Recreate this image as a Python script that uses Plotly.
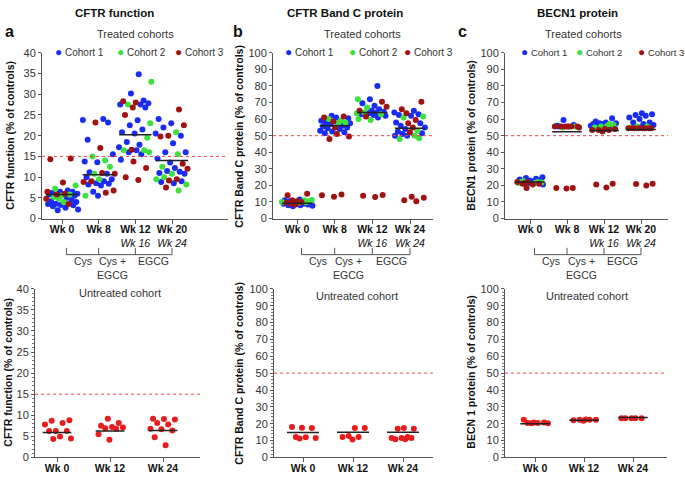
import plotly.graph_objects as go

# ---------------- data ----------------
top_a_labels = ["<b>Wk 0</b>", "<b>Wk 8</b>", "<b>Wk 12</b><br><i>Wk 16</i>", "<b>Wk 20</b><br><i>Wk 24</i>"]
top_b_labels = ["<b>Wk 0</b>", "<b>Wk 8</b>", "<b>Wk 12</b><br><i>Wk 16</i>", "<b>Wk 24</b><br><i>Wk 24</i>"]
top_c_labels = ["<b>Wk 0</b>", "<b>Wk 8</b>", "<b>Wk 12</b><br><i>Wk 16</i>", "<b>Wk 20</b><br><i>Wk 24</i>"]
bottom_labels = ["<b>Wk 0</b>", "<b>Wk 12</b>", "<b>Wk 24</b>"]
cohort_names = ["Cohort 1", "Cohort 2", "Cohort 3"]
bracket_labels = ["Cys", "Cys +<br>EGCG", "EGCG"]

# Panel a (CFTR function), treated cohorts
a_c1 = [[2.0, 2.2, 2.6, 3.0, 3.3, 3.5, 3.6, 4.0, 4.2, 5.0, 5.5, 6.0, 6.2, 6.5, 6.8, 6.5, 5.8, 4.5, 3.2],
        [24.0, 23.8, 23.2, 19.0, 15.5, 13.8, 13.6, 11.2, 10.8, 9.5, 9.0, 8.5, 8.2, 8.0, 8.4, 5.5, 6.5, 10.0],
        [34.8, 30.2, 28.5, 27.8, 27.5, 26.8, 23.7, 22.5, 21.5, 20.8, 20.5, 18.5, 17.8, 17.2, 16.5, 16.0, 15.5, 14.2, 27.5],
        [24.0, 23.0, 22.0, 20.5, 20.0, 18.2, 16.0, 16.0, 14.5, 13.5, 12.2, 11.5, 11.3, 11.0, 10.8, 9.0, 8.8, 8.5]]
a_c2 = [[4.8, 5.5, 5.8, 7.2, 8.0, 5.2, 4.0],
        [15.0, 14.0, 12.5, 9.5, 5.5, 10.8],
        [33.0, 27.5, 23.0, 19.5, 16.5, 16.5, 16.0],
        [20.8, 15.5, 12.5, 10.8, 10.0, 9.5, 8.2, 6.8]]
a_c3 = [[14.5, 14.3, 8.7, 6.0, 4.8, 3.5, 6.5, 5.8],
        [23.2, 17.0, 10.8, 9.0, 8.8, 6.8, 6.2, 11.0],
        [28.3, 28.0, 26.8, 25.0, 16.6, 13.8, 12.2, 10.0, 9.3],
        [26.3, 22.5, 20.0, 19.8, 13.2, 12.0, 9.5, 9.2, 7.5]]
a_means = [5.8, 10.6, 20.2, 14.0]

# Panel b (CFTR Band C protein), treated cohorts
b_c1 = [[7.5, 8.0, 8.5, 9.0, 9.5, 10.0, 10.5, 11.0, 11.5, 8.0, 9.0, 7.8],
        [62.0, 61.0, 60.5, 59.0, 58.0, 57.5, 57.0, 56.0, 55.0, 54.5, 54.0, 53.0, 52.5, 52.0, 51.5, 55.5],
        [80.0, 72.0, 69.5, 68.0, 66.0, 65.0, 64.5, 64.0, 63.5, 63.0, 62.5, 62.0, 61.0],
        [65.0, 64.0, 63.0, 62.5, 62.0, 58.0, 57.5, 56.0, 55.0, 54.0, 51.5, 51.0, 50.0, 50.0, 52.5]]
b_c2 = [[9.5, 10.0, 10.5, 11.0, 11.2, 9.8],
        [60.0, 59.0, 58.0, 57.5],
        [72.0, 67.0, 64.0, 63.5, 63.0, 60.0, 59.5],
        [61.5, 61.0, 53.0, 50.0, 48.0, 48.5]]
b_c3 = [[15.0, 14.0, 11.0, 10.0, 9.5, 9.0, 10.5, 8.5],
        [61.5, 61.0, 58.5, 55.0, 51.0, 49.5, 48.0, 14.5, 14.0, 13.2],
        [70.5, 67.5, 65.0, 61.5, 13.8, 14.2, 13.0],
        [70.5, 66.0, 63.5, 59.5, 57.5, 55.0, 52.0, 13.2, 12.5, 11.0, 10.5]]
b_means = [9.3, 56.0, 64.0, 54.5]

# Panel c (BECN1 protein), treated cohorts
c_c1 = [[25.0, 24.5, 24.0, 23.5, 23.0, 23.0, 22.5, 22.0, 21.5, 20.5],
        [59.5, 56.5, 56.0, 55.5, 55.5],
        [60.5, 58.5, 58.0, 57.5, 57.0, 56.5, 56.0, 55.5, 57.5, 57.0],
        [63.5, 63.0, 62.5, 62.0, 61.0, 60.0, 58.0, 58.0, 57.0, 56.5, 55.0]]
c_c2 = [[22.5, 22.0, 21.8, 21.5, 21.5, 22.0],
        [55.5, 55.0],
        [57.0, 56.5, 56.0, 55.0, 55.5],
        [55.5, 55.0, 55.5]]
c_c3 = [[22.0, 21.5, 21.0, 20.5, 18.5, 21.0, 22.0],
        [55.5, 55.5, 55.5, 55.5, 55.5, 55.5, 55.0, 18.5, 18.5, 18.2],
        [54.0, 54.0, 53.5, 53.5, 52.5, 53.5, 18.8, 20.5, 21.0],
        [54.5, 54.5, 54.5, 54.5, 54.5, 54.5, 54.5, 54.5, 20.8, 20.0, 21.0]]
c_means = [22.0, 52.3, 53.2, 53.8]

# Untreated cohort
ua_vals = [[8.2, 7.8, 8.7, 8.8, 6.3, 6.3, 6.3, 5.0, 4.4, 4.5],
           [9.2, 6.9, 7.2, 8.2, 7.5, 6.8, 7.1, 5.5, 4.2],
           [9.2, 9.1, 9.0, 7.8, 8.2, 6.4, 6.7, 6.8, 4.8, 2.9]]
ua_means = [5.9, 6.3, 6.4]
ub_vals = [[17.4, 18.0, 17.6, 11.2, 11.6, 12.0, 12.2],
           [17.4, 17.4, 12.7, 10.6, 12.2, 12.2],
           [17.0, 17.0, 17.4, 11.6, 12.2, 11.6, 11.6, 10.8, 10.8]]
ub_means = [14.8, 15.0, 15.0]
uc_vals = [[20.8, 20.5, 20.3, 20.3, 20.5, 20.8, 22.3],
           [22.3, 22.0, 22.3, 22.5, 22.3, 21.8],
           [23.2, 23.2, 23.2, 23.2, 23.2]]
uc_means = [20.0, 22.0, 23.7]

thresholds = [15, 50, 50, 15, 50, 50]

# ---------------- styling ----------------
W, H = 685, 482
FONT = "Arial, 'Liberation Sans', sans-serif"
COL = ["#1a2cf2", "#3ee03e", "#a01212"]
UNTREATED = "#e81c1c"
REDLINE = "#ee4444"


def fx(p):
    return p / W


def fy(p):
    return 1 - p / H


def jitter_offsets(groups, width, phase=0.37):
    """Deterministic golden-ratio jitter for all points of one category."""
    items = []
    for g, vals in enumerate(groups):
        for j, v in enumerate(vals):
            items.append((v, g, j))
    order = sorted(range(len(items)), key=lambda k: items[k][0])
    offs = [[0.0] * len(vals) for vals in groups]
    for rank, k in enumerate(order):
        v, g, j = items[k]
        offs[g][j] = (((rank * 0.6180339887 + phase) % 1.0) - 0.5) * 2 * width
    return offs


panels = [
    dict(n=1, left=42, right=228, cats=[62, 98, 136, 172], top=48, zero=218, ymax=40, dtick=5,
         minor=None, labels=top_a_labels, groups=[a_c1, a_c2, a_c3], means=a_means, jw=0.45, mw=0.44),
    dict(n=2, left=273, right=433, cats=[297, 334, 371, 410], top=48, zero=218, ymax=100, dtick=10,
         minor=None, labels=top_b_labels, groups=[b_c1, b_c2, b_c3], means=b_means, jw=0.42, mw=0.4),
    dict(n=3, left=505, right=668, cats=[530, 567, 604, 641], top=48, zero=218, ymax=100, dtick=10,
         minor=None, labels=top_c_labels, groups=[c_c1, c_c2, c_c3], means=c_means, jw=0.36, mw=0.4),
    dict(n=4, left=35, right=200, cats=[57, 113, 163], top=290, zero=463, ymax=40, dtick=5,
         minor=1, labels=bottom_labels, groups=[ua_vals], means=ua_means, jw=0.27, mw=0.27),
    dict(n=5, left=274, right=433, cats=[303, 351, 403], top=290, zero=463, ymax=100, dtick=10,
         minor=2, labels=bottom_labels, groups=[ub_vals], means=ub_means, jw=0.26, mw=0.32),
    dict(n=6, left=505, right=667, cats=[535, 582, 633], top=290, zero=463, ymax=100, dtick=10,
         minor=2, labels=bottom_labels, groups=[uc_vals], means=uc_means, jw=0.27, mw=0.3),
]

fig = go.Figure()
layout = dict(width=W, height=H, margin=dict(l=0, r=0, t=0, b=0),
              paper_bgcolor="white", plot_bgcolor="white", showlegend=False,
              font=dict(family=FONT, size=11, color="#222"))
shapes = []
annotations = []

for p in panels:
    n = p["n"]
    xa = "x" if n == 1 else f"x{n}"
    ya = "y" if n == 1 else f"y{n}"
    ncat = len(p["cats"])
    sp = (p["cats"][-1] - p["cats"][0]) / (ncat - 1)
    xr = [(p["left"] - p["cats"][0]) / sp, (p["right"] - p["cats"][0]) / sp]
    xkey = "xaxis" if n == 1 else f"xaxis{n}"
    ykey = "yaxis" if n == 1 else f"yaxis{n}"
    layout[xkey] = dict(domain=[fx(p["left"]), fx(p["right"])], range=xr, anchor=ya,
                        tickvals=list(range(ncat)), ticktext=p["labels"],
                        showline=True, linecolor="#555", linewidth=1, ticks="outside",
                        ticklen=4, tickcolor="#555", showgrid=False, zeroline=False,
                        ticklabelstandoff=-3,
                        tickfont=dict(size=10.5, color="#111"), fixedrange=True)
    ydict = dict(domain=[fy(p["zero"]), fy(p["top"])], range=[0, p["ymax"]], anchor=xa,
                 dtick=p["dtick"], tick0=0, showline=True, linecolor="#555", linewidth=1,
                 ticks="outside", ticklen=3, tickcolor="#555", showgrid=False, zeroline=False,
                 tickfont=dict(size=11, color="#333"), fixedrange=True)
    if p["minor"]:
        ydict["minor"] = dict(dtick=p["minor"], ticks="outside", ticklen=2, tickcolor="#777")
    layout[ykey] = ydict

    # threshold line
    shapes.append(dict(type="line", xref=f"{xa} domain", yref=ya, x0=0, x1=1,
                       y0=thresholds[n - 1], y1=thresholds[n - 1],
                       line=dict(color=REDLINE, width=1, dash="dot")))

    # points
    groups = p["groups"]
    xs = [[] for _ in groups]
    ys = [[] for _ in groups]
    for ci in range(ncat):
        cat_groups = [g[ci] for g in groups]
        offs = jitter_offsets(cat_groups, p["jw"], phase=0.37 + 0.11 * ci)
        for gi, vals in enumerate(cat_groups):
            for j, v in enumerate(vals):
                xs[gi].append(ci + offs[gi][j])
                ys[gi].append(v)
    for gi in range(len(groups)):
        color = COL[gi] if len(groups) == 3 else UNTREATED
        fig.add_trace(go.Scatter(x=xs[gi], y=ys[gi], mode="markers", xaxis=xa, yaxis=ya,
                                 marker=dict(size=6, color=color, line=dict(width=0)),
                                 name=cohort_names[gi] if len(groups) == 3 else "Untreated",
                                 hoverinfo="skip"))

    # mean lines
    for ci, m in enumerate(p["means"]):
        shapes.append(dict(type="line", xref=xa, yref=ya, x0=ci - p["mw"], x1=ci + p["mw"],
                           y0=m, y1=m, line=dict(color="#222", width=1.5)))

    # treated-panel extras: bracket and its labels
    if len(groups) == 3:
        ticks_x = [0.12, 1, 2, 3]
        yl = fy(255)
        yt = fy(248)
        shapes.append(dict(type="line", xref=xa, yref="paper", x0=ticks_x[0], x1=ticks_x[-1],
                           y0=yl, y1=yl, line=dict(color="#555", width=1)))
        for tx in ticks_x:
            shapes.append(dict(type="line", xref=xa, yref="paper", x0=tx, x1=tx,
                               y0=yl, y1=yt, line=dict(color="#555", width=1)))
        for k, lab in enumerate(bracket_labels):
            xm = (ticks_x[k] + ticks_x[k + 1]) / 2
            if k == 1:
                xm -= 0.12
            annotations.append(dict(text=lab, xref=xa, yref="paper", x=xm, y=fy(253.5),
                                    xanchor="center", yanchor="top", showarrow=False,
                                    font=dict(size=10.5, color="#333")))

# legends (x position in px, anchor, font size)
legend_items = {
    1: [(54, "left", 10), (116, "left", 10), (174, "left", 10)],
    2: [(284, "left", 10), (348, "left", 10), (403, "left", 10)],
    3: [(520, "left", 9.5), (575, "left", 9.5), (685, "right", 9.5)],
}
for n, items in legend_items.items():
    for gi, (lx, anc, fs) in enumerate(items):
        annotations.append(dict(text=f'<span style="color:{COL[gi]};font-size:12px">●</span> {cohort_names[gi]}',
                                xref="paper", yref="paper", x=fx(lx), y=fy(47), xanchor=anc,
                                yanchor="middle", showarrow=False, borderpad=0,
                                font=dict(size=fs, color="#333")))

# titles, panel letters, subtitles, y-axis titles
for text, x in [("CFTR function", 115), ("CFTR Band C protein", 345), ("BECN1 protein", 577)]:
    annotations.append(dict(text=f"<b>{text}</b>", xref="paper", yref="paper", x=fx(x), y=fy(7),
                            xanchor="center", yanchor="middle", showarrow=False,
                            font=dict(size=11.5, color="#111")))
for text, x in [("a", 9), ("b", 238), ("c", 462)]:
    annotations.append(dict(text=f"<b>{text}</b>", xref="paper", yref="paper", x=fx(x), y=fy(26),
                            xanchor="center", yanchor="middle", showarrow=False,
                            font=dict(size=16, color="#111")))
for text, x, y in [("Treated cohorts", 135, 29), ("Treated cohorts", 362, 29), ("Treated cohorts", 583, 29),
                   ("Untreated cohort", 120, 294), ("Untreated cohort", 357, 297), ("Untreated cohort", 587, 297)]:
    annotations.append(dict(text=text, xref="paper", yref="paper", x=fx(x), y=fy(y),
                            xanchor="center", yanchor="middle", showarrow=False,
                            font=dict(size=11, color="#333")))
for text, x, y in [("CFTR function (% of controls)", 10, 133),
                   ("CFTR Band C protein (% of controls)", 239, 133),
                   ("BECN1 protein (% of controls)", 471, 133),
                   ("CFTR function (% of controls)", 8, 376),
                   ("CFTR Band C protein (% of controls)", 239, 376),
                   ("BECN 1 protein (% of controls)", 471, 376)]:
    annotations.append(dict(text=f"<b>{text}</b>", xref="paper", yref="paper", x=fx(x), y=fy(y),
                            xanchor="center", yanchor="middle", textangle=-90, showarrow=False,
                            font=dict(size=10.5, color="#111")))

layout["shapes"] = shapes
layout["annotations"] = annotations
fig.update_layout(**layout)
fig.write_html("out.html", config={"displayModeBar": False, "staticPlot": True},
               post_script="document.body.style.margin='0';document.body.style.overflow='hidden';")
